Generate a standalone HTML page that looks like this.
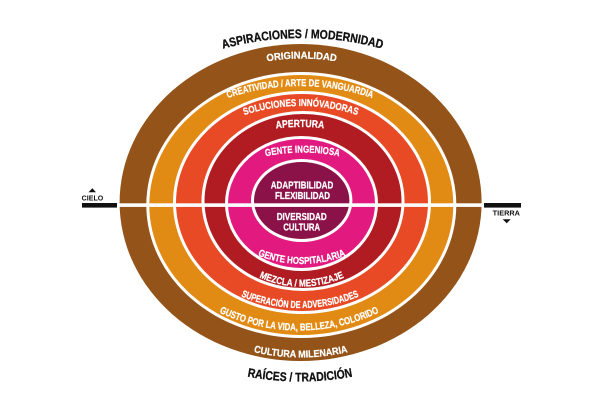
<!DOCTYPE html>
<html>
<head>
<meta charset="utf-8">
<style>
  html, body { margin: 0; padding: 0; background: #ffffff; }
  svg { display: block; }
  .lbl { font-family: "Liberation Sans", "DejaVu Sans", sans-serif; font-weight: bold; fill: #ffffff; font-size: 10px; stroke: #ffffff; stroke-width: 0.25px; }
  .blk { font-family: "Liberation Sans", "DejaVu Sans", sans-serif; font-weight: bold; fill: #111111; font-size: 12.5px; stroke: #111111; stroke-width: 0.3px; }
  .sm { font-family: "Liberation Sans", "DejaVu Sans", sans-serif; font-weight: bold; fill: #111111; font-size: 7px; }
</style>
</head>
<body>
<svg width="600" height="400" viewBox="0 0 600 400" xmlns="http://www.w3.org/2000/svg">
  <defs>
    <path id="p1" d="M202.5,55.2 A300,300 0 0 1 402.5,55.2"/>
    <path id="p2" d="M246.7,66 A205.7,205.7 0 0 1 356.7,66"/>
    <path id="p3" d="M210,105.2 A221,221 0 0 1 390,105.2"/>
    <path id="p4" d="M228.8,121.1 A178.7,178.7 0 0 1 372.8,121.1"/>
    <path id="p5" d="M260,131.2 A192.75,192.75 0 0 1 340,131.2"/>
    <path id="p6" d="M252.5,159.7 A177.8,177.8 0 0 1 352.5,159.7"/>
    <path id="p9" d="M243.7,248.6 A117,117 0 0 0 359.7,248.6"/>
    <path id="p10" d="M245.65,270.1 A103.6,103.6 0 0 0 357.65,270.1"/>
    <path id="p11" d="M225,288.8 A156,156 0 0 0 375,288.8"/>
    <path id="p12" d="M203.15,303.8 A185.9,185.9 0 0 0 395.15,303.8"/>
    <path id="p13" d="M238.8,348 A207.8,207.8 0 0 0 362.8,348"/>
    <path id="p14" d="M230,372.8 A286.6,286.6 0 0 0 370,372.8"/>
  </defs>

  <!-- rings -->
  <ellipse cx="300.6" cy="202.5" rx="181" ry="158.5" fill="#945318"/>
  <ellipse cx="301.3" cy="205" rx="155" ry="133" fill="#ffffff"/>
  <ellipse cx="301.3" cy="205" rx="152" ry="130" fill="#e28b14"/>
  <ellipse cx="302" cy="202.5" rx="129" ry="111.5" fill="#ffffff"/>
  <ellipse cx="302" cy="202.5" rx="126" ry="108.5" fill="#e84a26"/>
  <ellipse cx="303" cy="201" rx="101.5" ry="90" fill="#ffffff"/>
  <ellipse cx="303" cy="201" rx="98.5" ry="87" fill="#b01c21"/>
  <ellipse cx="301.5" cy="203.5" rx="76.5" ry="67.5" fill="#ffffff"/>
  <ellipse cx="301.5" cy="203.5" rx="73.5" ry="64.5" fill="#e2197f"/>
  <ellipse cx="301.7" cy="200.5" rx="50.7" ry="41.5" fill="#ffffff"/>
  <ellipse cx="301.7" cy="200.5" rx="47.7" ry="38.5" fill="#8b1249"/>

  <!-- horizontal white divider -->
  <rect x="114" y="203.3" width="374" height="3.6" fill="#ffffff"/>

  <!-- side markers -->
  <rect x="82" y="203" width="35" height="4.6" fill="#111111"/>
  <polygon points="88.5,192.3 96,192.3 92.3,188.3" fill="#111111"/>
  <text class="sm" x="81.7" y="200.3" textLength="21.6" lengthAdjust="spacingAndGlyphs">CIELO</text>

  <rect x="484" y="203" width="37" height="4.6" fill="#111111"/>
  <text class="sm" x="492.7" y="215.6" textLength="27.3" lengthAdjust="spacingAndGlyphs">TIERRA</text>
  <polygon points="502.7,219.3 510.7,219.3 506.7,223.3" fill="#111111"/>

  <!-- top arc labels -->
  <text class="blk" text-anchor="middle"><textPath href="#p1" startOffset="50%" textLength="161" lengthAdjust="spacingAndGlyphs">ASPIRACIONES / MODERNIDAD</textPath></text>
  <text class="lbl" text-anchor="middle"><textPath href="#p2" startOffset="50%" textLength="69.5" lengthAdjust="spacingAndGlyphs">ORIGINALIDAD</textPath></text>
  <text class="lbl" text-anchor="middle"><textPath href="#p3" startOffset="50%" textLength="147" lengthAdjust="spacingAndGlyphs">CREATIVIDAD / ARTE DE VANGUARDIA</textPath></text>
  <text class="lbl" text-anchor="middle"><textPath href="#p4" startOffset="50%" textLength="115" lengthAdjust="spacingAndGlyphs">SOLUCIONES INNÓVADORAS</textPath></text>
  <text class="lbl" text-anchor="middle" style="font-size:10.5px"><textPath href="#p5" startOffset="50%" textLength="48" lengthAdjust="spacingAndGlyphs">APERTURA</textPath></text>
  <text class="lbl" text-anchor="middle"><textPath href="#p6" startOffset="50%" textLength="74" lengthAdjust="spacingAndGlyphs">GENTE INGENIOSA</textPath></text>

  <!-- center labels -->
  <text class="lbl" x="302" y="188.3" text-anchor="middle" textLength="62.6" lengthAdjust="spacingAndGlyphs">ADAPTIBILIDAD</text>
  <text class="lbl" x="302.5" y="198.8" text-anchor="middle" textLength="55" lengthAdjust="spacingAndGlyphs">FLEXIBILIDAD</text>
  <text class="lbl" x="301.7" y="220.2" text-anchor="middle" textLength="50" lengthAdjust="spacingAndGlyphs">DIVERSIDAD</text>
  <text class="lbl" x="301.7" y="230.7" text-anchor="middle" textLength="36.7" lengthAdjust="spacingAndGlyphs">CULTURA</text>

  <!-- bottom arc labels -->
  <text class="lbl" text-anchor="middle"><textPath href="#p9" startOffset="50%" textLength="90" lengthAdjust="spacingAndGlyphs">GENTE HOSPITALARIA</textPath></text>
  <text class="lbl" text-anchor="middle"><textPath href="#p10" startOffset="50%" textLength="87.5" lengthAdjust="spacingAndGlyphs">MEZCLA / MESTIZAJE</textPath></text>
  <text class="lbl" text-anchor="middle"><textPath href="#p11" startOffset="50%" textLength="121" lengthAdjust="spacingAndGlyphs">SUPERACIÓN DE ADVERSIDADES</textPath></text>
  <text class="lbl" text-anchor="middle"><textPath href="#p12" startOffset="50%" textLength="165" lengthAdjust="spacingAndGlyphs">GUSTO POR LA VIDA, BELLEZA, COLORIDO</textPath></text>
  <text class="lbl" text-anchor="middle"><textPath href="#p13" startOffset="50%" textLength="95" lengthAdjust="spacingAndGlyphs">CULTURA MILENARIA</textPath></text>
  <text class="blk" text-anchor="middle"><textPath href="#p14" startOffset="50%" textLength="106" lengthAdjust="spacingAndGlyphs">RAÍCES / TRADICIÓN</textPath></text>
</svg>
</body>
</html>
